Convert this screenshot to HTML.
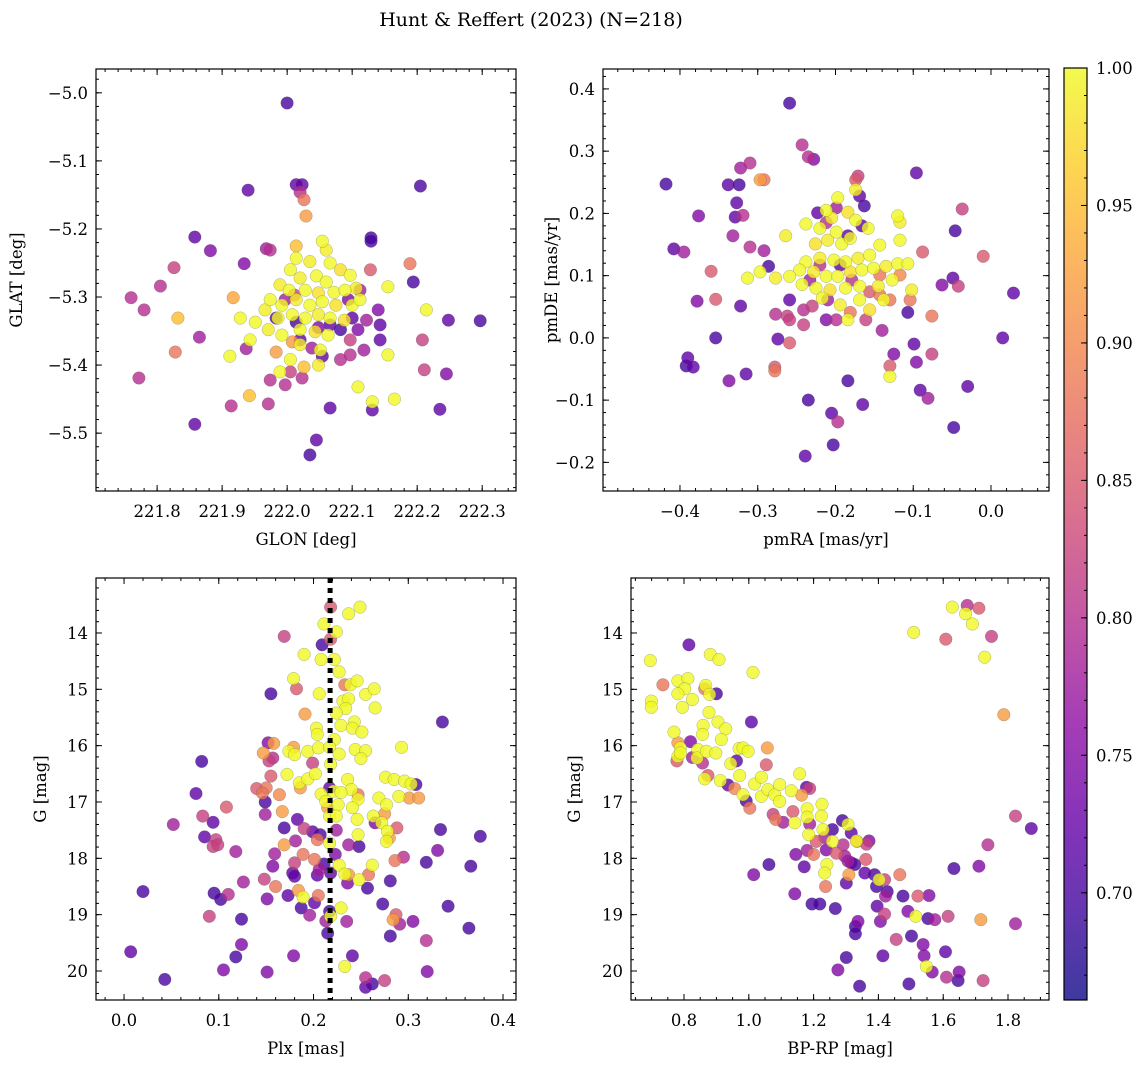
<!DOCTYPE html>
<html><head><meta charset="utf-8"><style>
html,body{margin:0;padding:0;background:#fff;}
svg{display:block;font-family:"DejaVu Serif","Liberation Serif",serif;}
</style></head><body>
<svg id="fig" width="1148" height="1068" viewBox="0 0 1148 1068" xmlns="http://www.w3.org/2000/svg">
<rect width="1148" height="1068" fill="#fff"/>
<text x="531" y="26" text-anchor="middle" font-size="19">Hunt &amp; Reffert (2023) (N=218)</text>
</svg>
<script>
// ---------- Panel 1: GLON vs GLAT ----------
const p1Lon=[222.000,221.940,222.014,222.023,222.205,222.020,222.026,222.029,221.858,221.882,221.968,221.974,222.129,222.129,221.826,221.934,221.805,221.760,221.780,222.189,222.194,222.297,222.248,221.832,221.828,221.865,221.772,221.912,221.937,221.942,221.914,221.971,221.858,222.245,222.211,222.235,222.208,222.131,222.165,222.131,222.035,222.045,222.066,222.155,222.109,222.155,222.214,
222.054,222.060,222.014,222.035,222.066,222.082,222.097,222.005,222.020,222.045,222.060,221.989,222.003,222.028,222.048,222.072,222.089,222.106,221.974,221.992,222.014,222.035,222.054,222.075,222.100,222.112,221.966,221.986,222.008,222.028,222.048,222.066,222.088,221.928,221.951,221.971,221.992,222.020,222.043,222.063,221.943,222.020,222.051,222.005,222.048,221.989,
221.983,222.014,222.066,222.082,222.048,222.100,222.109,222.122,222.140,222.143,222.094,222.112,222.128,222.020,222.038,222.054,222.082,222.097,222.118,222.005,222.023,221.997,221.974,222.011,221.997,222.097,222.143,
221.917,221.983,222.008,222.014,222.026];
const p1Lat=[-5.015,-5.143,-5.135,-5.135,-5.137,-5.146,-5.157,-5.181,-5.212,-5.232,-5.229,-5.231,-5.213,-5.218,-5.257,-5.251,-5.284,-5.301,-5.319,-5.251,-5.278,-5.335,-5.334,-5.331,-5.381,-5.359,-5.419,-5.387,-5.376,-5.445,-5.460,-5.457,-5.487,-5.413,-5.407,-5.465,-5.363,-5.454,-5.450,-5.466,-5.532,-5.510,-5.463,-5.385,-5.432,-5.285,-5.319,
-5.218,-5.231,-5.243,-5.248,-5.250,-5.260,-5.268,-5.260,-5.272,-5.269,-5.278,-5.282,-5.290,-5.290,-5.294,-5.293,-5.290,-5.287,-5.304,-5.312,-5.304,-5.312,-5.307,-5.312,-5.312,-5.304,-5.319,-5.331,-5.326,-5.331,-5.326,-5.331,-5.334,-5.331,-5.337,-5.348,-5.356,-5.348,-5.351,-5.356,-5.363,-5.370,-5.378,-5.392,-5.400,-5.410,
-5.331,-5.337,-5.341,-5.348,-5.345,-5.331,-5.348,-5.334,-5.319,-5.341,-5.304,-5.290,-5.260,-5.363,-5.375,-5.387,-5.392,-5.385,-5.378,-5.410,-5.419,-5.429,-5.422,-5.297,-5.304,-5.363,-5.363,
-5.301,-5.381,-5.366,-5.225,-5.403];
const p1Prob=[.70,.72,.72,.72,.70,.80,.88,.92,.72,.75,.78,.80,.70,.70,.82,.75,.80,.80,.80,.88,.70,.70,.72,.95,.88,.78,.80,1.0,.78,.95,.80,.80,.72,.75,.82,.72,.82,1.0,1.0,.72,.70,.72,.72,1.0,1.0,1.0,1.0,
1,.99,1,.99,1,.98,1,1,.99,1,1,.99,1,1,.98,1,1,.99,1,1,.99,1,1,.98,1,1,.99,1,1,1,.99,1,.98,1,1,.99,1,1,.98,1,1,.99,1,1,.99,1,
.72,.70,.72,.70,.75,.72,.75,.78,.75,.72,.75,.78,.85,.72,.78,.72,.80,.80,.78,.82,.80,.80,.80,.82,.78,.82,.72,
.93,.92,.92,.95,.95];

// ---------- Panel 2: pmRA vs pmDE ----------
const p2Ra=[-0.418,-0.259,-0.243,-0.235,-0.228,-0.310,-0.322,-0.338,-0.324,-0.292,-0.297,-0.408,-0.395,-0.376,-0.327,-0.329,-0.360,-0.354,-0.378,-0.390,-0.354,-0.392,-0.383,-0.337,-0.315,-0.322,-0.319,-0.332,-0.310,-0.292,-0.286,-0.278,-0.278,-0.274,-0.259,-0.277,-0.262,-0.241,-0.235,-0.239,-0.197,-0.205,-0.203,-0.184,-0.165,-0.140,-0.130,-0.130,-0.125,-0.099,-0.096,-0.091,-0.081,-0.107,-0.076,-0.076,-0.063,-0.048,-0.030,-0.049,-0.042,-0.037,-0.046,-0.010,0.015,0.029,-0.096,-0.088,
-0.212,-0.205,-0.220,-0.199,-0.210,-0.192,-0.181,-0.226,-0.238,-0.220,-0.202,-0.187,-0.171,-0.156,-0.246,-0.228,-0.212,-0.197,-0.181,-0.166,-0.151,-0.135,-0.120,-0.259,-0.277,-0.243,-0.225,-0.207,-0.187,-0.169,-0.145,-0.127,-0.107,-0.102,-0.117,-0.143,-0.184,-0.174,-0.197,-0.174,-0.158,-0.217,-0.194,-0.184,-0.169,-0.156,-0.138,-0.120,-0.117,-0.313,-0.297,-0.264,-0.238,
-0.223,-0.212,-0.199,-0.184,-0.174,-0.171,-0.169,-0.163,-0.166,-0.194,-0.179,-0.156,-0.143,-0.161,-0.210,-0.230,-0.241,-0.199,-0.181,-0.143,-0.130,-0.117,-0.104,-0.220,-0.233,-0.259,-0.212,-0.259];
const p2De=[0.247,0.377,0.310,0.291,0.287,0.281,0.273,0.246,0.246,0.254,0.254,0.143,0.138,0.196,0.217,0.194,0.107,0.062,0.059,-0.032,0.000,-0.045,-0.047,-0.069,-0.058,0.051,0.197,0.164,0.146,0.140,0.115,-0.053,-0.047,-0.002,-0.008,0.038,0.035,0.021,-0.100,-0.190,-0.135,-0.121,-0.172,-0.069,-0.107,0.012,-0.045,-0.062,-0.026,-0.010,-0.039,-0.084,-0.097,0.041,-0.026,0.035,0.085,-0.144,-0.078,0.096,0.083,0.207,0.172,0.131,0.000,0.072,0.265,0.138,
0.205,0.193,0.176,0.170,0.157,0.151,0.160,0.151,0.122,0.128,0.125,0.122,0.128,0.133,0.109,0.106,0.099,0.099,0.106,0.109,0.112,0.115,0.119,0.099,0.096,0.086,0.080,0.077,0.080,0.083,0.083,0.093,0.119,0.077,0.157,0.149,0.202,0.189,0.225,0.238,0.176,0.064,0.053,0.029,0.061,0.045,0.061,0.196,0.186,0.096,0.106,0.164,0.183,
0.201,0.185,0.209,0.164,0.254,0.260,0.228,0.212,0.180,0.117,0.093,0.074,0.069,0.029,0.061,0.051,0.045,0.029,0.041,0.101,0.061,0.101,0.061,0.117,0.093,0.061,0.029,0.029];
const p2Prob=[.70,.70,.80,.80,.75,.80,.78,.72,.70,.88,.92,.72,.78,.75,.72,.72,.85,.85,.75,.72,.70,.70,.72,.75,.72,.72,.80,.78,.80,.78,.70,.88,.85,.72,.85,.80,.82,.82,.70,.72,.80,.72,.70,.70,.72,.78,.85,1.0,.75,.72,.75,.72,.78,.70,.82,.88,.75,.70,.72,.72,.82,.82,.70,.85,.72,.72,.72,.85,
1,.99,1,1,.99,1,1,.98,1,.99,1,1,.99,1,1,.99,1,1,.98,1,1,.99,1,1,.99,1,1,.98,1,1,.99,1,1,.99,1,1,.98,1,1,.99,1,1,.99,1,1,.98,1,1,.99,1,1,.99,1,
.72,.80,.78,.72,.85,.82,.72,.70,.72,.72,.80,.85,.88,.82,.78,.82,.80,.80,.88,.88,.88,.90,.88,.80,.78,.72,.75,.82];

// ---------- Panel 3: Plx vs G ----------
const p3Plx=[0.218,0.237,0.249,0.169,0.211,0.224,0.218,0.209,0.190,0.208,0.222,0.227,0.179,0.182,0.233,0.239,0.246,0.206,0.155,0.255,0.264,0.231,0.237,0.234,0.265,0.224,0.191,0.336,0.229,0.243,0.241,0.251,0.203,0.204,0.222,0.152,0.158,0.179,0.174,0.180,0.194,0.205,0.217,0.227,0.244,0.255,0.250,0.293,0.147,0.153,0.157,0.199,0.218,0.082,0.155,0.172,0.185,0.194,0.202,0.186,0.140,0.150,0.146,0.164,0.217,0.236,0.240,0.247,0.247,0.208,0.213,0.221,0.229,0.226,0.215,0.217,0.224,0.241,0.246,0.276,0.285,0.296,0.303,0.308,0.290,0.269,0.277,0.301,0.311,0.076,0.149,0.108,0.083,0.094,0.052,0.149,0.167,0.183,0.169,0.190,0.199,0.207,0.224,0.204,0.217,0.181,0.169,0.085,0.097,0.094,0.099,0.118,0.159,0.189,0.201,0.223,0.237,0.248,0.247,0.263,0.272,0.275,0.265,0.278,0.277,0.280,0.288,0.157,0.180,0.178,0.180,0.206,0.204,0.211,0.218,0.227,0.233,0.237,0.236,0.248,0.262,0.258,0.257,0.281,0.286,0.295,0.319,0.331,0.334,0.376,0.366,0.342,0.364,0.020,0.095,0.102,0.110,0.126,0.148,0.160,0.151,0.173,0.184,0.189,0.205,0.201,0.187,0.196,0.217,0.218,0.229,0.235,0.273,0.287,0.284,0.291,0.305,0.281,0.319,0.090,0.124,0.124,0.118,0.105,0.043,0.007,0.151,0.179,0.215,0.213,0.241,0.233,0.255,0.262,0.255,0.275,0.320];
const p3G=[13.54,13.66,13.54,14.06,13.84,13.98,14.11,14.21,14.38,14.47,14.47,14.69,14.81,14.99,14.92,14.92,14.85,15.08,15.08,15.09,14.99,15.21,15.17,15.34,15.33,15.42,15.44,15.58,15.64,15.58,15.69,15.76,15.69,15.80,15.89,15.95,15.96,16.03,16.10,16.16,16.10,16.04,16.03,16.15,16.07,16.09,16.23,16.03,16.13,16.27,16.22,16.31,16.33,16.28,16.54,16.51,16.66,16.59,16.50,16.75,16.76,16.75,16.84,16.87,16.75,16.60,16.78,16.87,16.95,16.86,16.99,16.81,16.83,17.05,17.10,17.25,17.25,17.10,17.31,16.56,16.60,16.63,16.68,16.69,16.90,16.93,17.05,16.93,16.93,16.85,17.00,17.09,17.25,17.36,17.40,17.22,17.17,17.31,17.46,17.47,17.53,17.58,17.50,17.67,17.73,17.69,17.76,17.62,17.67,17.79,17.76,17.88,17.92,17.93,18.02,17.93,17.76,17.79,17.58,17.25,17.37,17.21,17.37,17.52,17.70,17.64,17.46,18.14,18.08,18.26,18.32,18.20,18.30,18.10,18.26,18.12,18.28,18.29,18.44,18.38,18.12,18.29,18.53,18.40,18.04,17.98,18.07,17.86,17.49,17.61,18.14,18.85,19.24,18.59,18.62,18.73,18.64,18.42,18.37,18.50,18.72,18.66,18.57,18.69,18.66,18.79,18.88,19.01,18.94,19.03,18.88,19.12,18.81,19.00,19.09,19.17,19.12,19.38,19.46,19.03,19.08,19.53,19.75,19.98,20.15,19.66,20.02,19.73,19.33,19.11,19.73,19.92,20.12,20.23,20.29,20.17,20.01];
const p3Prob=[.85,1,1,.82,1,1,.85,.70,1,1,1,1,1,.85,.88,1,1,1,.70,1,1,1,1,1,1,1,.92,.70,1,1,1,1,1,1,1,.75,.92,.92,1,1,1,1,1,1,1,1,1,1,.92,.82,.80,.82,1,.70,.85,1,1,1,1,.92,.85,.88,.88,.90,.72,1,1,.88,1,1,1,1,1,1,.92,1,1,1,1,1,1,1,1,.70,1,1,1,.92,.92,.72,.70,.85,.82,.72,.78,.78,.92,.72,.70,.82,.72,.70,.78,.88,1,.78,.92,.72,.82,.82,.82,.78,.78,.88,.88,.75,.78,.70,1,1,1,.92,.75,1,1,.92,.85,.75,.82,.72,.72,.78,.72,.70,.72,1,1,.92,.75,1,1,.88,.70,.70,.88,.80,.70,.75,.70,.70,.70,.70,.70,.70,.70,.70,.80,.78,.82,.88,.75,.72,.92,1,.88,.72,.70,.78,.70,1,1,.78,.70,.85,.92,.78,.75,.70,.80,.82,.70,.75,.70,.75,.70,.72,.75,.75,.70,.78,.72,1,.80,.70,.72,.82,.75];

// ---------- Panel 4: BP-RP vs G ----------
const p4Bprp=[0.696,0.699,0.699,0.735,0.815,0.881,0.908,1.013,0.781,0.812,0.802,0.781,0.826,0.795,0.867,0.864,0.900,0.879,0.877,0.859,0.905,0.929,0.915,0.857,0.769,0.781,0.820,0.789,0.781,0.778,0.789,0.826,0.843,0.840,0.857,0.869,0.898,0.874,0.864,0.912,0.936,0.944,0.962,0.956,0.972,0.970,0.982,0.998,1.008,1.057,1.054,0.982,0.992,1.003,1.018,1.039,1.039,1.059,1.080,1.095,1.095,1.075,1.083,1.106,1.131,1.136,1.142,1.157,1.163,1.178,1.188,1.180,1.180,1.185,1.188,1.180,1.200,1.208,1.226,1.224,1.229,1.234,1.258,1.258,1.239,1.270,1.289,1.306,1.316,1.291,1.296,1.306,1.316,1.332,1.334,1.371,1.363,1.361,1.241,1.234,1.237,1.301,1.309,1.327,1.358,1.388,1.402,1.394,1.419,1.427,1.466,1.476,1.522,1.556,1.422,1.419,1.396,1.406,1.337,1.329,1.329,1.301,1.275,1.342,1.414,1.455,1.491,1.502,1.515,1.538,1.541,1.553,1.574,1.615,1.607,1.548,1.566,1.610,1.649,1.646,1.494,1.723,1.142,1.171,1.195,1.219,1.267,1.145,1.062,1.015,1.716,1.823,1.633,1.710,1.738,1.823,1.872,1.787,1.628,1.674,1.710,1.669,1.690,1.509,1.608,1.749,1.728];
const p4G=[14.49,15.21,15.32,14.92,14.21,14.38,14.47,14.70,14.85,14.81,14.99,15.08,15.18,15.32,14.93,14.99,15.08,15.09,15.41,15.64,15.58,15.70,15.89,15.80,15.76,15.95,15.93,16.04,16.19,16.27,16.13,16.21,16.07,16.22,16.31,16.10,16.13,16.53,16.59,16.62,16.70,16.32,16.27,16.76,16.53,16.05,16.04,16.10,15.58,16.04,16.34,16.87,16.98,17.11,16.68,16.56,16.90,16.78,16.87,16.69,16.99,17.22,17.31,17.36,16.80,17.17,17.37,16.50,16.88,16.74,16.76,17.12,17.27,17.58,17.39,17.86,17.93,17.70,17.04,17.25,17.49,17.63,17.49,17.70,17.85,17.91,17.33,17.40,17.55,17.76,17.96,18.05,18.08,17.69,17.70,17.69,17.75,18.02,18.11,18.26,18.50,18.44,18.29,18.11,18.26,18.29,18.38,18.50,18.38,18.59,18.29,18.67,18.67,18.66,18.67,18.99,18.85,19.12,19.12,19.21,19.34,19.76,19.98,20.27,19.73,19.44,18.94,19.38,19.03,19.53,19.73,19.07,19.09,19.03,19.66,19.92,20.02,20.11,20.02,20.17,20.23,20.17,18.63,18.15,18.81,18.81,18.89,17.93,18.11,18.29,19.09,19.16,18.18,18.14,17.76,17.25,17.47,15.45,13.54,13.51,13.56,13.66,13.84,13.99,14.11,14.06,14.43];
const p4Prob=[1,1,1,.88,.72,1,1,1,1,1,1,1,1,1,1,.88,.70,1,1,1,1,1,1,1,1,.92,.75,1,1,.85,1,.78,1,1,.80,1,1,.85,1,1,.72,1,.72,.90,1,1,1,1,.72,.92,.85,1,.70,.88,1,1,1,1,1,1,1,.82,.88,.78,1,.85,1,1,.92,.72,.82,1,1,1,.78,.78,.88,.85,1,1,1,.78,.70,1,.75,.85,.70,1,.72,.80,.78,.78,.72,1,.88,.75,.82,.85,1,1,.88,.72,.92,.70,.72,.70,1,.70,.82,.70,.88,.70,.85,.75,.78,.82,.72,.75,.75,.70,.70,.70,.75,.70,.72,.82,.75,.70,1,.75,.75,.70,.78,.82,.72,1,.75,.80,.75,.70,.70,.82,.75,.72,.70,.70,.70,.75,.70,.75,.92,.78,.70,.75,.80,.82,.72,.92,1,.80,.85,1,1,1,.85,.82,1];

// ---------- Colorbar ticks ----------
const cbTicks=[0.70,0.75,0.80,0.85,0.90,0.95,1.00];
const cbMin=0.661, cbMax=1.0;

const NS="http://www.w3.org/2000/svg";
const svg=document.getElementById('fig');
function el(tag,attrs,parent){const e=document.createElementNS(NS,tag);for(const k in attrs)e.setAttribute(k,attrs[k]);(parent||svg).appendChild(e);return e;}
const plasmaStops=[[0,13,8,135],[0.1,65,4,157],[0.2,106,0,168],[0.3,143,13,164],[0.4,177,42,144],[0.5,204,71,120],[0.6,225,100,98],[0.7,242,132,75],[0.8,252,166,54],[0.9,252,206,37],[1,240,249,33]];
function plasma(t){t=Math.max(0,Math.min(1,t));for(let i=1;i<plasmaStops.length;i++){if(t<=plasmaStops[i][0]){const a=plasmaStops[i-1],b=plasmaStops[i];const f=(t-a[0])/(b[0]-a[0]);return 'rgb('+[1,2,3].map(j=>Math.round(a[j]+(b[j]-a[j])*f)).join(',')+')';}}return 'rgb(240,249,33)';}
function cnorm(p){return (p-cbMin)/(cbMax-cbMin);}
function fmt(v,d){const s=Math.abs(v).toFixed(d);return (v<-1e-9?'\u2212':'')+s;}

function panel(o){
  const g=el('g',{});
  
  
  const sx=v=>o.px+(v-o.x0)/(o.x1-o.x0)*o.pw;
  const sy=o.inv?(v=>o.py+(v-o.y0)/(o.y1-o.y0)*o.ph):(v=>o.py+o.ph-(v-o.y0)/(o.y1-o.y0)*o.ph);
  const idx=o.xs.map((_,i)=>i).sort((a,b)=>o.ps[a]-o.ps[b]);
  const pg=el('g',{},g);
  
  
  idx.forEach(i=>{
    const c=el('circle',{cx:sx(o.xs[i]).toFixed(1),cy:sy(o.ys[i]).toFixed(1),r:6.3,fill:plasma(cnorm(o.ps[i])),'fill-opacity':0.8,stroke:'#555','stroke-opacity':0.45,'stroke-width':0.5},pg);
    
    
  });
  if(o.vline!==undefined){
    const l=el('line',{x1:sx(o.vline),x2:sx(o.vline),y1:o.py,y2:o.py+o.ph,stroke:'#000','stroke-width':5,'stroke-dasharray':'5 5'},g);
    
    
  }
  const tg=el('g',{stroke:'#000','stroke-width':1},g);
  
  
  const eps=1e-9;
  const start=(a,s)=>Math.ceil((a-eps)/s)*s;
  for(let v=start(o.x0,o.xmin);v<=o.x1+eps;v+=o.xmin){const X=sx(v);el('line',{x1:X,x2:X,y1:o.py+o.ph,y2:o.py+o.ph-3},tg);el('line',{x1:X,x2:X,y1:o.py,y2:o.py+3},tg);}
  for(let v=start(o.y0,o.ymin);v<=o.y1+eps;v+=o.ymin){const Y=sy(v);el('line',{x1:o.px,x2:o.px+3,y1:Y,y2:Y},tg);el('line',{x1:o.px+o.pw,x2:o.px+o.pw-3,y1:Y,y2:Y},tg);}
  for(let v=start(o.x0,o.xmaj);v<=o.x1+eps;v+=o.xmaj){const X=sx(v);el('line',{x1:X,x2:X,y1:o.py+o.ph,y2:o.py+o.ph-6},tg);el('line',{x1:X,x2:X,y1:o.py,y2:o.py+6},tg);
    const t=el('text',{x:X,y:o.py+o.ph+26,'text-anchor':'middle','font-size':16.5,stroke:'none',fill:'#000'},g);t.textContent=fmt(v,o.xd);
    }
  for(let v=start(o.y0,o.ymaj);v<=o.y1+eps;v+=o.ymaj){const Y=sy(v);el('line',{x1:o.px,x2:o.px+6,y1:Y,y2:Y},tg);el('line',{x1:o.px+o.pw,x2:o.px+o.pw-6,y1:Y,y2:Y},tg);
    const t=el('text',{x:o.px-8,y:Y+6,'text-anchor':'end','font-size':16.5,fill:'#000'},g);t.textContent=fmt(v,o.yd);
    }
  const fr=el('rect',{x:o.px,y:o.py,width:o.pw,height:o.ph,fill:'none',stroke:'#000','stroke-width':1.2},g);
  
  const xl=el('text',{x:o.px+o.pw/2,y:o.py+o.ph+54,'text-anchor':'middle','font-size':16.5},g);xl.textContent=o.xlabel;
  
  const yc=o.py+o.ph/2;
  const yl=el('text',{x:o.ylx,y:yc,'text-anchor':'middle','font-size':16.5,transform:'rotate(-90 '+o.ylx+' '+yc+')'},g);yl.textContent=o.ylabel;
  
}

panel({name:'glon-glat-panel',px:96,py:69,pw:420,ph:422,x0:221.706,x1:222.352,y0:-5.585,y1:-4.965,xmaj:0.1,xmin:0.02,ymaj:0.1,ymin:0.02,xd:1,yd:1,xs:p1Lon,ys:p1Lat,ps:p1Prob,xlabel:'GLON [deg]',ylabel:'GLAT [deg]',ylx:22});
panel({name:'proper-motion-panel',px:603,py:69,pw:446,ph:422,x0:-0.499,x1:0.0746,y0:-0.246,y1:0.432,xmaj:0.1,xmin:0.02,ymaj:0.1,ymin:0.02,xd:1,yd:1,xs:p2Ra,ys:p2De,ps:p2Prob,xlabel:'pmRA [mas/yr]',ylabel:'pmDE [mas/yr]',ylx:557});
panel({name:'parallax-magnitude-panel',px:96,py:578,pw:420,ph:422,x0:-0.0296,x1:0.4137,y0:13.024,y1:20.515,inv:true,xmaj:0.1,xmin:0.02,ymaj:1,ymin:0.2,xd:1,yd:0,xs:p3Plx,ys:p3G,ps:p3Prob,xlabel:'Plx [mas]',ylabel:'G [mag]',ylx:46,vline:0.2175});
panel({name:'color-magnitude-panel',px:631,py:578,pw:418,ph:422,x0:0.6364,x1:1.9265,y0:13.024,y1:20.515,inv:true,xmaj:0.2,xmin:0.05,ymaj:1,ymin:0.2,xd:1,yd:0,xs:p4Bprp,ys:p4G,ps:p4Prob,xlabel:'BP-RP [mag]',ylabel:'G [mag]',ylx:580});

(function(){
  const cx=1064,cy=68,cw=23,ch=932;
  const g=el('g',{});
  
  
  const defs=el('defs',{},g);
  const lg=el('linearGradient',{id:'cbg',x1:0,y1:1,x2:0,y2:0},defs);
  for(let i=0;i<=20;i++){el('stop',{offset:(i/20),'stop-color':plasma(i/20)},lg);}
  el('rect',{x:cx,y:cy,width:cw,height:ch,fill:'url(#cbg)','fill-opacity':0.8},g);
  el('rect',{x:cx,y:cy,width:cw,height:ch,fill:'none',stroke:'#000','stroke-width':1.2},g);
  const sy=v=>cy+ch-(v-cbMin)/(cbMax-cbMin)*ch;
  for(let k=Math.ceil(cbMin*100);k<=100;k++){const Y=sy(k/100);el('line',{x1:cx+cw,x2:cx+cw-3,y1:Y,y2:Y,stroke:'#000'},g);}
  cbTicks.forEach(v=>{const Y=sy(v);el('line',{x1:cx+cw,x2:cx+cw-6,y1:Y,y2:Y,stroke:'#000'},g);
    const t=el('text',{x:cx+cw+9,y:Y+6,'font-size':16.5},g);t.textContent=v.toFixed(2);
    });
})();
</script>
</body></html>
